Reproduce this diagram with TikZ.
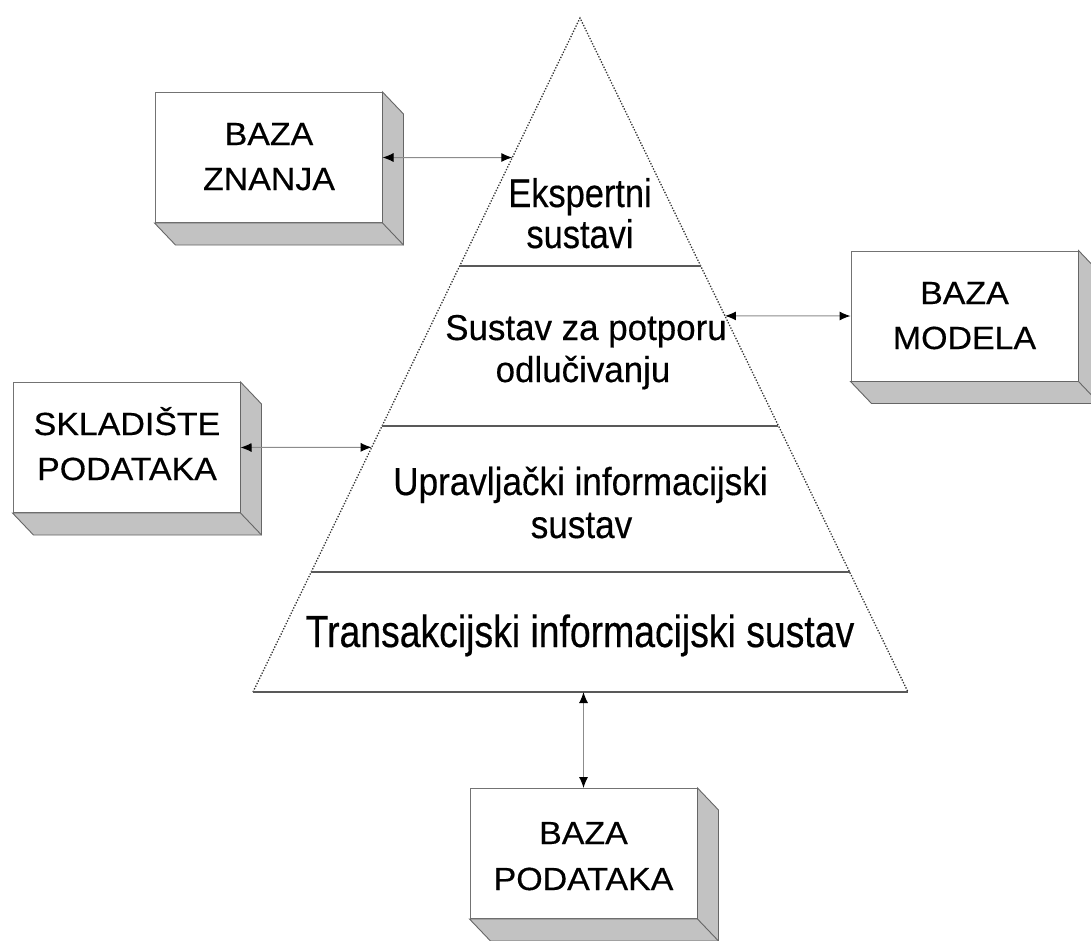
\documentclass[tikz,border=0pt]{standalone}
\usepackage{fontspec}
\setmainfont{Liberation Sans}[FakeBold=0.4]
\usepackage{graphicx}
\usetikzlibrary{calc,arrows.meta}
\newcommand\boxside[1]{%
  \draw[side] (#1.north east) -- ++(21,22) -- ($(#1.south east)+(21,22)$) -- ($(#1.south west)+(21,22)$) -- (#1.south west) -- (#1.south east) -- cycle;
  \draw[side] (#1.south east) -- ++(21,22);}
\begin{document}
\begin{tikzpicture}[x=1pt,y=-1pt,
  front/.style={draw=black!55, line width=1pt, fill=white, inner sep=0pt, minimum width=227, minimum height=130},
  side/.style={draw=black!60, line width=0.9pt, fill=black!24},
  boxtxt/.style={anchor=base, inner sep=0pt, font=\fontsize{32}{38}\selectfont},
  pyrtxt/.style={anchor=base, inner sep=0pt},
  tri/.style={draw=black!80, line width=1.3pt, dash pattern=on 1.3pt off 1.6pt},
  divider/.style={draw=black!65, line width=1.6pt},
  link/.style={draw=black!45, line width=1pt, {Latex[length=11pt,width=9pt,color=black]}-{Latex[length=11pt,width=9pt,color=black]}},
]
\useasboundingbox (0,0) rectangle (1091,940);
\clip (0,0) rectangle (1091,940);
\fill[white] (0,0) rectangle (1091,940);

% pyramid
\coordinate (A) at (580,18);
\coordinate (BL) at (253,692);
\coordinate (BR) at (908,692);
\draw[tri] (BL) -- (A) -- (BR);
\draw[divider] (BL) -- (BR);
\draw[divider] ($(A)!0.368!(BL)$) -- ($(A)!0.368!(BR)$);
\draw[divider] ($(A)!0.605!(BL)$) -- ($(A)!0.605!(BR)$);
\draw[divider] ($(A)!0.822!(BL)$) -- ($(A)!0.822!(BR)$);

\node[pyrtxt, font=\fontsize{40}{40}\selectfont] (es1) at (580,207) {\scalebox{0.86}[1]{Ekspertni}};
\node[pyrtxt, font=\fontsize{40}{40}\selectfont] (es2) at (580,248) {\scalebox{0.86}[1]{sustavi}};
\node[pyrtxt, font=\fontsize{36}{36}\selectfont] (sp1) at (586,340) {\scalebox{0.97}[1]{Sustav za potporu}};
\node[pyrtxt, font=\fontsize{36}{36}\selectfont] (sp2) at (583,382) {\scalebox{0.97}[1]{odlučivanju}};
\node[pyrtxt, font=\fontsize{39}{39}\selectfont] (ui1) at (580.5,495) {\scalebox{0.9}[1]{Upravljački informacijski}};
\node[pyrtxt, font=\fontsize{39}{39}\selectfont] (ui2) at (581.5,538) {\scalebox{0.9}[1]{sustav}};
\node[pyrtxt, font=\fontsize{45}{45}\selectfont] (ti) at (580,647) {\scalebox{0.83}[1]{Transakcijski informacijski sustav}};

% boxes
\node[front] (zn) at (268.5,157.5) {};
\boxside{zn}
\node[front] (sk) at (126.5,447.5) {};
\boxside{sk}
\node[front] (mo) at (964.5,316) {};
\boxside{mo}
\node[front] (po) at (583.5,853.5) {};
\boxside{po}

\node[boxtxt] (zn1) at (269,145) {\scalebox{1.06}[1]{BAZA}};
\node[boxtxt] (zn2) at (269,190) {\scalebox{1.06}[1]{ZNANJA}};
\node[boxtxt] (sk1) at (127,435) {\scalebox{1.06}[1]{SKLADIŠTE}};
\node[boxtxt] (sk2) at (127,480) {\scalebox{1.06}[1]{PODATAKA}};
\node[boxtxt] (mo1) at (964.5,304) {\scalebox{1.06}[1]{BAZA}};
\node[boxtxt] (mo2) at (964.5,349) {\scalebox{1.06}[1]{MODELA}};
\node[boxtxt] (po1) at (583.5,844) {\scalebox{1.06}[1]{BAZA}};
\node[boxtxt] (po2) at (583.5,890) {\scalebox{1.06}[1]{PODATAKA}};

% connectors
\coordinate (kz) at ($(A)!0.207!(BL)$);
\coordinate (km) at ($(A)!0.442!(BR)$);
\coordinate (ks) at ($(A)!0.637!(BL)$);
\draw[link] (zn.east) -- (kz);
\draw[link] (km) -- (mo.west);
\draw[link] (sk.east) -- (ks);
\draw[link] (po.north) -- (po.north |- BL);
\end{tikzpicture}
\end{document}
